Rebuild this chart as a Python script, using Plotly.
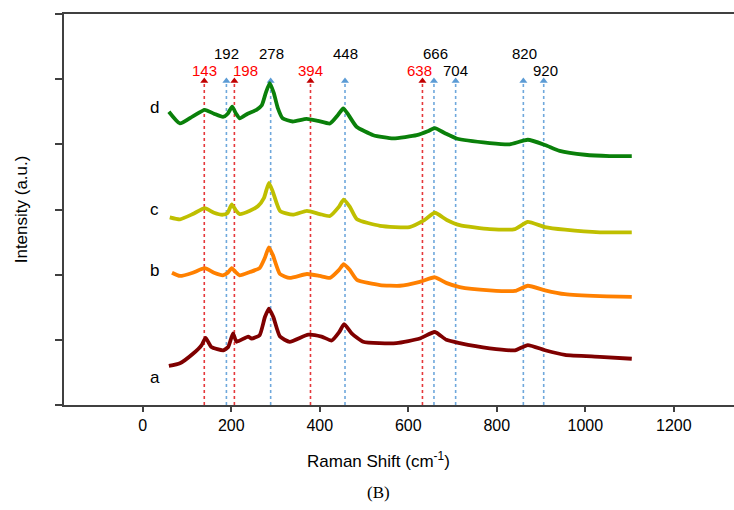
import plotly.graph_objects as go

# ---------------- data ----------------
wn_a = [59, 84, 114, 133, 142, 155, 182, 193, 204, 212, 238, 246, 264, 276, 285, 295, 310, 332, 374, 404, 427, 444, 455, 472, 498, 573, 626, 660, 686, 716, 784, 841, 870, 909, 954, 1033, 1105]
int_a = [0.60, 0.64, 0.79, 0.92, 1.03, 0.89, 0.84, 0.89, 1.10, 0.97, 1.05, 1.02, 1.07, 1.35, 1.48, 1.35, 1.05, 0.97, 1.08, 1.05, 0.99, 1.12, 1.24, 1.10, 0.97, 0.95, 1.02, 1.12, 1.00, 0.95, 0.87, 0.84, 0.92, 0.84, 0.77, 0.74, 0.71]

wn_b = [66, 84, 113, 140, 161, 181, 192, 201, 210, 219, 242, 264, 276, 285, 294, 310, 332, 371, 400, 423, 443, 454, 468, 484, 536, 581, 626, 660, 687, 716, 784, 841, 870, 909, 954, 1033, 1105]
int_b = [2.03, 1.98, 2.03, 2.10, 2.03, 1.99, 2.03, 2.10, 2.04, 1.99, 2.04, 2.10, 2.26, 2.42, 2.30, 2.01, 1.95, 2.01, 1.98, 1.95, 2.07, 2.16, 2.07, 1.92, 1.84, 1.83, 1.89, 1.96, 1.87, 1.81, 1.76, 1.75, 1.83, 1.76, 1.70, 1.67, 1.66]

wn_c = [61, 84, 113, 140, 161, 181, 192, 201, 210, 219, 242, 260, 274, 285, 294, 310, 339, 371, 400, 423, 443, 454, 468, 484, 536, 603, 637, 660, 687, 716, 784, 841, 870, 909, 954, 1033, 1105]
int_c = [2.88, 2.85, 2.93, 3.02, 2.95, 2.92, 2.95, 3.08, 2.99, 2.93, 2.98, 3.05, 3.18, 3.41, 3.27, 2.98, 2.92, 2.98, 2.93, 2.90, 3.04, 3.15, 3.04, 2.85, 2.75, 2.73, 2.84, 2.95, 2.84, 2.76, 2.70, 2.70, 2.81, 2.73, 2.69, 2.65, 2.65]

wn_d = [59, 84, 113, 140, 161, 181, 192, 202, 210, 219, 237, 257, 269, 278, 287, 296, 305, 316, 339, 370, 396, 423, 441, 453, 463, 483, 521, 566, 619, 644, 660, 683, 709, 784, 829, 870, 909, 942, 999, 1055, 1105]
int_d = [4.50, 4.32, 4.43, 4.53, 4.47, 4.42, 4.47, 4.58, 4.48, 4.40, 4.47, 4.53, 4.60, 4.79, 4.94, 4.79, 4.56, 4.40, 4.35, 4.39, 4.36, 4.32, 4.45, 4.55, 4.47, 4.27, 4.14, 4.09, 4.14, 4.20, 4.25, 4.17, 4.09, 4.02, 4.00, 4.07, 3.99, 3.90, 3.84, 3.82, 3.82]

series_names = ["a", "b", "c", "d"]
series_colors = ["#7F0000", "#FF8000", "#BFBF00", "#0A800A"]
series_label_y = [0.42, 2.06, 3.0, 4.56]

# reference lines (positions drawn) and their labels
red_pos = [139, 207, 379, 632]
red_labels = ["143", "198", "394", "638"]
red_label_x = [140, 231, 379, 626]
red_label_y = [5.14, 5.14, 5.14, 5.14]

blue_pos = [189, 289, 457, 658, 707, 860, 906]
blue_labels = ["192", "278", "448", "666", "704", "820", "920"]
blue_label_x = [190, 291, 457, 662, 707, 863, 911]
blue_label_y = [5.40, 5.40, 5.40, 5.40, 5.14, 5.40, 5.14]

line_top = 4.97
x_range = [-178, 1336]
y_range = [0, 6]
x_ticks = [0, 200, 400, 600, 800, 1000, 1200]
y_ticks = [0, 1, 2, 3, 4, 5, 6]

RED_LINE = "#E5383B"
RED_HEAD = "#C00000"
BLUE_LINE = "#6FA8DC"
BLUE_HEAD = "#5B9BD5"

fig = go.Figure()

# dotted vertical lines with arrowheads
for pos in red_pos:
    fig.add_trace(go.Scatter(x=[pos, pos], y=[0, line_top], mode="lines",
                             line=dict(color=RED_LINE, width=1.6, dash="dot"),
                             showlegend=False, hoverinfo="skip"))
for pos in blue_pos:
    fig.add_trace(go.Scatter(x=[pos, pos], y=[0, line_top], mode="lines",
                             line=dict(color=BLUE_LINE, width=1.6, dash="dot"),
                             showlegend=False, hoverinfo="skip"))
fig.add_trace(go.Scatter(x=red_pos, y=[line_top] * len(red_pos), mode="markers",
                         marker=dict(symbol="triangle-up", size=7, color=RED_HEAD),
                         showlegend=False, hoverinfo="skip"))
fig.add_trace(go.Scatter(x=blue_pos, y=[line_top] * len(blue_pos), mode="markers",
                         marker=dict(symbol="triangle-up", size=7, color=BLUE_HEAD),
                         showlegend=False, hoverinfo="skip"))

# spectra
for wn, inten, col in zip([wn_a, wn_b, wn_c, wn_d], [int_a, int_b, int_c, int_d], series_colors):
    fig.add_trace(go.Scatter(x=wn, y=inten, mode="lines",
                             line=dict(color=col, width=3.8, shape="spline", smoothing=0.5),
                             showlegend=False))

FONT = "Liberation Sans, Arial, sans-serif"
ann = []
for name, ly in zip(series_names, series_label_y):
    ann.append(dict(x=27, y=ly, xref="x", yref="y", text=name, showarrow=False,
                    font=dict(family=FONT, size=17, color="#000000")))
for lbl, lx, ly in zip(red_labels, red_label_x, red_label_y):
    ann.append(dict(x=lx, y=ly, xref="x", yref="y", text=lbl, showarrow=False,
                    font=dict(family=FONT, size=15, color="#FF0000")))
for lbl, lx, ly in zip(blue_labels, blue_label_x, blue_label_y):
    ann.append(dict(x=lx, y=ly, xref="x", yref="y", text=lbl, showarrow=False,
                    font=dict(family=FONT, size=15, color="#000000")))
# axis titles and caption
ann.append(dict(x=0.469, y=-0.14, xref="paper", yref="paper", showarrow=False,
                text="Raman Shift (cm<sup>-1</sup>)", yanchor="middle",
                font=dict(family=FONT, size=17, color="#000000")))
ann.append(dict(x=-0.063, y=0.5, xref="paper", yref="paper", showarrow=False,
                text="Intensity (a.u.)", textangle=-90, xanchor="center", yanchor="middle",
                font=dict(family=FONT, size=17, color="#000000")))
ann.append(dict(x=0.469, y=-0.225, xref="paper", yref="paper", showarrow=False,
                text="(B)", yanchor="middle",
                font=dict(family="Liberation Serif, Times New Roman, serif", size=17, color="#000000")))

fig.update_layout(
    width=734, height=510,
    margin=dict(l=64, r=0, t=14, b=105),
    paper_bgcolor="white", plot_bgcolor="white",
    annotations=ann,
    showlegend=False,
)
fig.update_xaxes(range=x_range, tickvals=x_ticks, ticktext=[str(v) for v in x_ticks],
                 showgrid=False, zeroline=False, showline=True, linecolor="#404040", linewidth=1.5,
                 mirror=True, ticks="outside", ticklen=5, tickwidth=1.5, tickcolor="#404040",
                 tickfont=dict(family=FONT, size=16, color="#000000"))
fig.update_yaxes(range=y_range, tickvals=y_ticks, showticklabels=False,
                 showgrid=False, zeroline=False, showline=True, linecolor="#404040", linewidth=1.5,
                 ticks="outside", ticklen=7, tickwidth=1.5, tickcolor="#404040")

fig.write_html("out.html")
